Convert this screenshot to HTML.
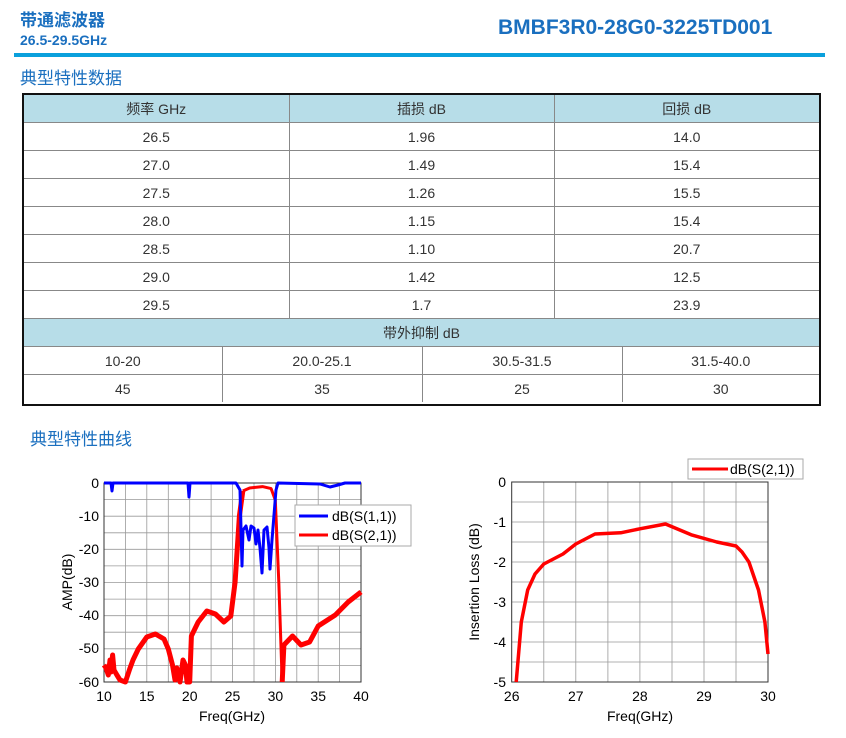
<!DOCTYPE html>
<html><head><meta charset="utf-8"><style>
body{margin:0;width:846px;height:738px;background:#fff;font-family:"Liberation Sans","Noto Sans CJK SC",sans-serif;position:relative;overflow:hidden}
.a{position:absolute}
.box{position:absolute;left:22px;top:93px;width:795px;height:309px;border:2px solid #111}
table{border-collapse:collapse;width:795px;table-layout:fixed;font-size:14px;color:#333;text-align:center}
td{border:1px solid #888;height:27px;padding:0}
table tr:first-child td{border-top:none}
td:first-child{border-left:none}td:last-child{border-right:none}
.last tr:last-child td{border-bottom:none}
.h td{background:#b7dde8}
</style></head><body>
<div class="a" style="left:20px;top:6px;font-size:17px;color:#1a6fbf;font-weight:bold">带通滤波器</div>
<div class="a" style="left:20px;top:32px;font-size:14px;color:#1a6fbf;font-weight:bold">26.5-29.5GHz</div>
<div class="a" style="left:498px;top:16px;font-size:21px;color:#1a6fbf;font-weight:bold">BMBF3R0-28G0-3225TD001</div>
<div class="a" style="left:14px;top:53px;width:811px;height:4px;background:#0aa0dc"></div>
<div class="a" style="left:20px;top:64px;font-size:17px;color:#1a6fbf">典型特性数据</div>
<div class="box">
<table>
<colgroup><col style="width:265px"><col style="width:265px"><col></colgroup>
<tr class="h"><td>频率 GHz</td><td>插损 dB</td><td>回损 dB</td></tr>
<tr><td>26.5</td><td>1.96</td><td>14.0</td></tr>
<tr><td>27.0</td><td>1.49</td><td>15.4</td></tr>
<tr><td>27.5</td><td>1.26</td><td>15.5</td></tr>
<tr><td>28.0</td><td>1.15</td><td>15.4</td></tr>
<tr><td>28.5</td><td>1.10</td><td>20.7</td></tr>
<tr><td>29.0</td><td>1.42</td><td>12.5</td></tr>
<tr><td>29.5</td><td>1.7</td><td>23.9</td></tr>
<tr class="h"><td colspan="3">带外抑制 dB</td></tr>
</table>
<table class="last">
<colgroup><col style="width:198px"><col style="width:200px"><col style="width:200px"><col></colgroup>
<tr><td style="border-top:none">10-20</td><td style="border-top:none">20.0-25.1</td><td style="border-top:none">30.5-31.5</td><td style="border-top:none">31.5-40.0</td></tr>
<tr><td>45</td><td>35</td><td>25</td><td>30</td></tr>
</table>
</div>
<div class="a" style="left:30px;top:425px;font-size:17px;color:#1a6fbf">典型特性曲线</div>
<svg class="a" style="left:0;top:0" width="846" height="738" font-family="Liberation Sans, sans-serif" font-size="14">
<g stroke="#999" stroke-width="0.8">
<path d="M125.4,483V682M146.8,483V682M168.3,483V682M189.7,483V682M211.1,483V682M232.5,483V682M254,483V682M275.4,483V682M296.8,483V682M318.2,483V682M339.6,483V682"/>
<path d="M104,499.6H361M104,516.2H361M104,532.8H361M104,549.3H361M104,565.9H361M104,582.5H361M104,599.1H361M104,615.7H361M104,632.2H361M104,648.8H361M104,665.4H361"/>
<path d="M543.8,482V682M575.8,482V682M607.9,482V682M639.9,482V682M672,482V682M704,482V682M736,482V682"/>
<path d="M511.7,502H768M511.7,522H768M511.7,542H768M511.7,562H768M511.7,582H768M511.7,602H768M511.7,622H768M511.7,642H768M511.7,662H768"/>
</g>
<rect x="104" y="483" width="257" height="199" fill="none" stroke="#333"/>
<rect x="511.7" y="482" width="256.3" height="200" fill="none" stroke="#333"/>
<path fill="none" stroke="#f00" stroke-width="5" stroke-linejoin="round" d="M104,665 L106,668 L108.3,675 L110,660 L111,672 L112.6,655 L114,670 L116.9,675 L120,680 L125.4,682 L129.7,669 L133,660 L138.3,649 L146.8,637 L155.4,634 L164,639 L168.3,649 L172.5,665 L175,680 L176.8,668 L180,682 L183,660 L185.4,665 L187,682 L189.7,682 L191.4,636 L198.2,622 L206.8,611 L215.4,614 L223.9,622 L230.8,616 L235.1,582 L239.4,516 L242.8,491"/>
<path fill="none" stroke="#f00" stroke-width="3" stroke-linejoin="round" d="M242.8,491 L249.7,488 L262.5,486.6 L271.1,488.6 L275.3,500 L278.8,582 L282.2,682"/>
<path fill="none" stroke="#f00" stroke-width="5" stroke-linejoin="round" d="M282.2,682 L283.9,645 L292.5,636 L301,645 L309.6,642 L318.2,626 L335.3,615 L348.2,602 L361,592"/>
<path fill="none" stroke="#00f" stroke-width="3" stroke-linejoin="round" d="M104,483 L111,483 L112,491 L113,483 L188,483 L189,497 L190,483 L236,483 L240,490 L242,566 L243,530 L246,526 L249,540 L251,526 L254,528 L256,544 L258,530 L260,548 L262,573 L264,530 L267,527 L269,548 L270,569 L272,540 L274,515 L276,490 L278,483 L320,484 L330,487 L338,485 L345,483 L361,483"/>
<path fill="none" stroke="#f00" stroke-width="3.5" stroke-linejoin="round" d="M516.2,682 L521.3,622 L527.7,590 L535,574 L543.8,564 L563,554 L575.8,544 L595,534 L620.7,532.8 L639.9,528.8 L665.5,524 L691.2,534.8 L716.8,542 L736,546 L742,552 L748.9,562 L758.5,590 L764.9,622 L768,654"/>
<rect x="295" y="505" width="116" height="41" fill="#fff" stroke="#aaa"/>
<path d="M299,516H328" stroke="#00f" stroke-width="3"/><path d="M299,535H328" stroke="#f00" stroke-width="3"/>
<text x="332" y="521">dB(S(1,1))</text><text x="332" y="540">dB(S(2,1))</text>
<rect x="688" y="459" width="115" height="20" fill="#fff" stroke="#aaa"/>
<path d="M692,469H728" stroke="#f00" stroke-width="3"/><text x="730" y="474">dB(S(2,1))</text>
<g text-anchor="end"><text x="99" y="488">0</text><text x="99" y="521">-10</text><text x="99" y="554">-20</text><text x="99" y="587">-30</text><text x="99" y="620">-40</text><text x="99" y="653">-50</text><text x="99" y="687">-60</text>
<text x="506" y="487">0</text><text x="506" y="527">-1</text><text x="506" y="567">-2</text><text x="506" y="607">-3</text><text x="506" y="647">-4</text><text x="506" y="687">-5</text></g>
<g text-anchor="middle"><text x="104" y="701">10</text><text x="146.8" y="701">15</text><text x="189.7" y="701">20</text><text x="232.5" y="701">25</text><text x="275.4" y="701">30</text><text x="318.2" y="701">35</text><text x="361" y="701">40</text>
<text x="232" y="721">Freq(GHz)</text>
<text x="511.7" y="701">26</text><text x="575.8" y="701">27</text><text x="639.9" y="701">28</text><text x="704" y="701">29</text><text x="768" y="701">30</text>
<text x="640" y="721">Freq(GHz)</text>
<text transform="translate(72,582) rotate(-90)">AMP(dB)</text>
<text transform="translate(479,582) rotate(-90)">Insertion Loss (dB)</text></g>
</svg>
</body></html>
